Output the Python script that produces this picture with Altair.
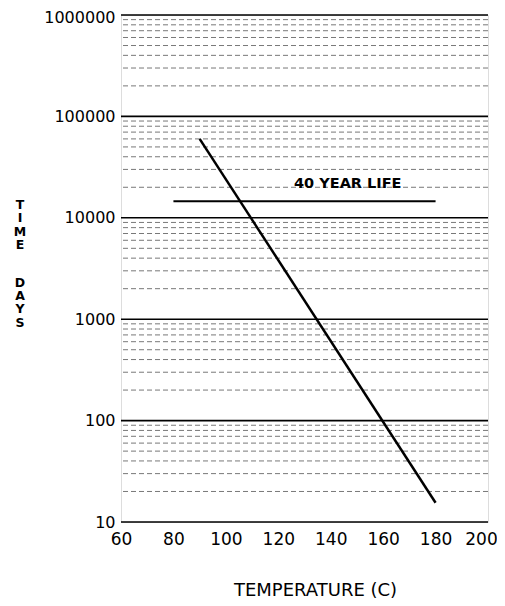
import altair as alt
import pandas as pd

# Data
curve_temp = [90, 180]
curve_days = [60000, 15.5]

life_temp = [80, 180]
life_days = [14600, 14600]

label_text = ["40 YEAR LIFE"]
label_temp = [146.5]
label_days = [14600]

major_grid = [10, 100, 1000, 10000, 100000, 1000000]
minor_grid = [m * d for d in [10, 100, 1000, 10000, 100000] for m in range(2, 10)]

x_ticks = [60, 80, 100, 120, 140, 160, 180, 200]

y_title_letters = ["T", "I", "M", "E", "D", "A", "Y", "S"]
y_title_offsets = [190, 203, 217, 230, 268, 281, 294, 308]  # pixel rows of the stacked title

FONT = "DejaVu Sans"

xs = alt.Scale(domain=[60, 200], nice=False, zero=False)
ys = alt.Scale(type="log", domain=[10, 1000000], nice=False)

x_axis = alt.Axis(
    values=x_ticks, grid=False, ticks=False, domain=False, labelFlush=False,
    labelFont=FONT, labelFontSize=17, labelPadding=9, labelColor="black",
    labelOffset={"condition": {"test": "datum.value === 200", "value": -7}, "value": 0},
    title="TEMPERATURE (C)", titleFont=FONT, titleFontSize=18,
    titleFontWeight="normal", titleColor="black",
    titleX=194, titleY=68, titleBaseline="middle",
)
y_axis = alt.Axis(
    values=major_grid, format="d", grid=False, ticks=False, domain=False,
    labelFlush=False, labelOverlap=False,
    labelOffset={"condition": {"test": "datum.value === 1000000", "value": 2}, "value": 0},
    labelFont=FONT, labelFontSize=16, labelPadding=6, labelColor="black",
    title=None,
)

minor = alt.Chart(pd.DataFrame({"v": minor_grid})).mark_rule(
    color="#555", strokeWidth=0.8, strokeDash=[5, 3]
).encode(y=alt.Y("v:Q", scale=ys, axis=y_axis))

major = alt.Chart(pd.DataFrame({"v": major_grid})).mark_rule(
    color="black", strokeWidth=1.6
).encode(y=alt.Y("v:Q", scale=ys))

curve = alt.Chart(pd.DataFrame({"t": curve_temp, "d": curve_days})).mark_line(
    color="black", strokeWidth=2.5
).encode(
    x=alt.X("t:Q", scale=xs, axis=x_axis),
    y=alt.Y("d:Q", scale=ys),
)

life = alt.Chart(pd.DataFrame({"t": life_temp, "d": life_days})).mark_line(
    color="black", strokeWidth=2
).encode(x=alt.X("t:Q", scale=xs), y=alt.Y("d:Q", scale=ys))

label = alt.Chart(pd.DataFrame({"t": label_temp, "d": label_days, "s": label_text})).mark_text(
    font=FONT, fontSize=14.5, fontWeight="bold", color="black", dy=-17
).encode(x=alt.X("t:Q", scale=xs), y=alt.Y("d:Q", scale=ys), text="s:N")

ytitle = alt.Chart(pd.DataFrame({"ch": y_title_letters, "py": y_title_offsets})).mark_text(
    font=FONT, fontSize=12.5, fontWeight="bold", color="black",
    align="center", baseline="middle",
).encode(x=alt.value(-101), y=alt.Y("py:Q", scale=None), text="ch:N")

chart = alt.layer(minor, major, curve, life, label, ytitle).properties(
    width=367, height=507,
    autosize=alt.AutoSizeParams(type="none"),
    padding={"left": 113, "top": 7, "right": 9, "bottom": 76},
).configure_view(stroke="black", strokeWidth=1.2).configure(background="white")

chart.save("out.html", embed_options={"renderer": "svg", "actions": False})
